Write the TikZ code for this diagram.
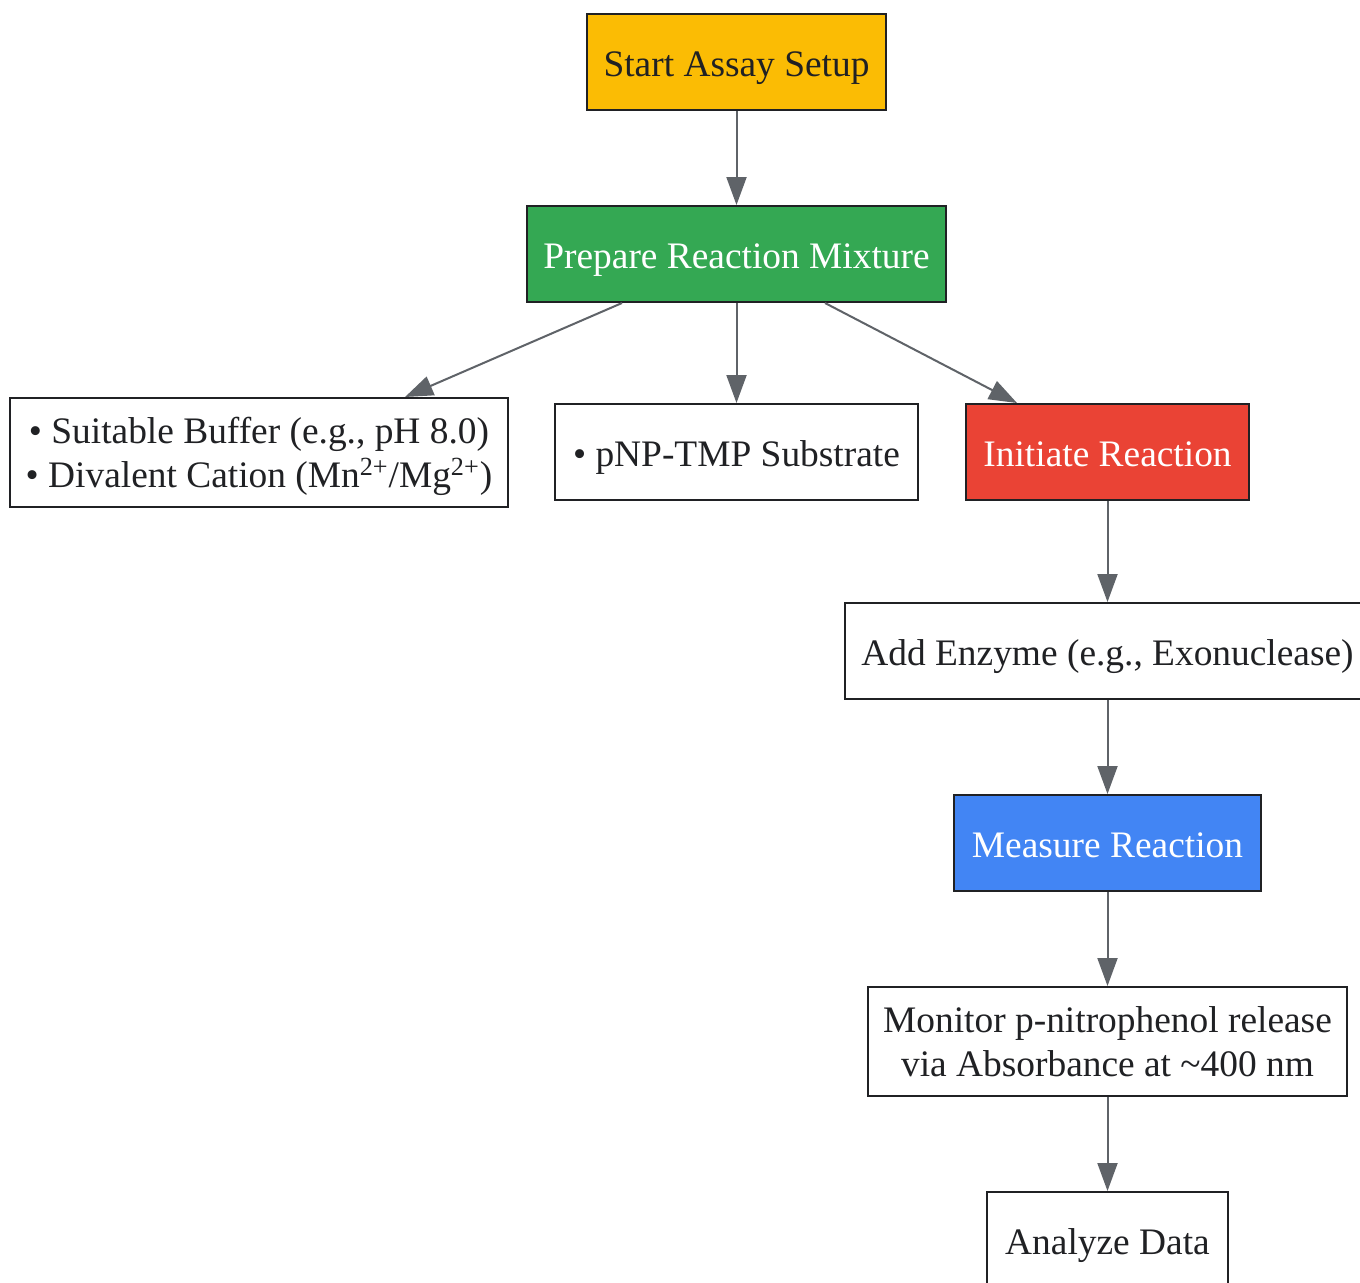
\documentclass[tikz,border=0pt]{standalone}
\usepackage{fontspec}
\setmainfont{Liberation Serif}
\usetikzlibrary{arrows.meta}

\definecolor{amberfill}{HTML}{FBBC04}
\definecolor{greenfill}{HTML}{34A853}
\definecolor{redfill}{HTML}{EA4335}
\definecolor{bluefill}{HTML}{4285F4}
\definecolor{boxline}{HTML}{202124}
\definecolor{arrowgray}{HTML}{5F6368}

\tikzset{
  stepbox/.style={draw=boxline, line width=1pt, fill=white, text=boxline,
    inner sep=0pt, align=center, minimum height=48pt, text height=14.4pt, text depth=0pt,
    font=\fontsize{18.7}{22}\selectfont},
  twoline/.style={stepbox, minimum height=54.5pt, text height=, text depth=0pt},
  darkbox/.style={stepbox, text=white},
  flow/.style={draw=arrowgray, line width=1pt, -{Triangle[length=14pt,width=10pt]}}
}

\begin{document}
\begin{tikzpicture}[x=0.5pt, y=-0.5pt]
\useasboundingbox[fill=white] (0,0) rectangle (1360,1282);

% top of the flow
\node[stepbox, fill=amberfill, minimum width=149.5pt] (start) at (736.5,62) {Start Assay Setup};
\node[darkbox, fill=greenfill, minimum width=209.5pt] (prep) at (736.5,254) {Prepare Reaction Mixture};

% mixture parts
\node[twoline, minimum width=249pt] (buffer) at (259,452.5)
  {\textbullet{} Suitable Buffer (e.g., pH 8.0)\\\textbullet{} Divalent Cation (Mn\textsuperscript{2+}/Mg\textsuperscript{2+})};
\node[stepbox, minimum width=181.5pt] (substrate) at (736.5,452) {\textbullet{} pNP-TMP Substrate};
\node[darkbox, fill=redfill, minimum width=141.5pt] (initiate) at (1107.5,452) {Initiate Reaction};

% right column
\node[stepbox, minimum width=262.5pt] (enzyme) at (1107.5,651) {Add Enzyme (e.g., Exonuclease)};
\node[darkbox, fill=bluefill, minimum width=153.5pt] (measure) at (1107.5,843) {Measure Reaction};
\node[twoline, minimum width=239.5pt] (monitor) at (1107.5,1041.5)
  {Monitor p-nitrophenol release\\via Absorbance at \textasciitilde400 nm};
\node[stepbox, minimum width=120.5pt] (analyze) at (1107.5,1240) {Analyze Data};

% connectors
\draw[flow] (start.south) -- (prep.north);
\draw[flow] ([xshift=-57.25pt]prep.south) -- ([xshift=73pt]buffer.north);
\draw[flow] (prep.south) -- (substrate.north);
\draw[flow] ([xshift=44.25pt]prep.south) -- ([xshift=-45.25pt]initiate.north);
\draw[flow] (initiate.south) -- (enzyme.north);
\draw[flow] (enzyme.south) -- (measure.north);
\draw[flow] (measure.south) -- (monitor.north);
\draw[flow] (monitor.south) -- (analyze.north);
\end{tikzpicture}
\end{document}
